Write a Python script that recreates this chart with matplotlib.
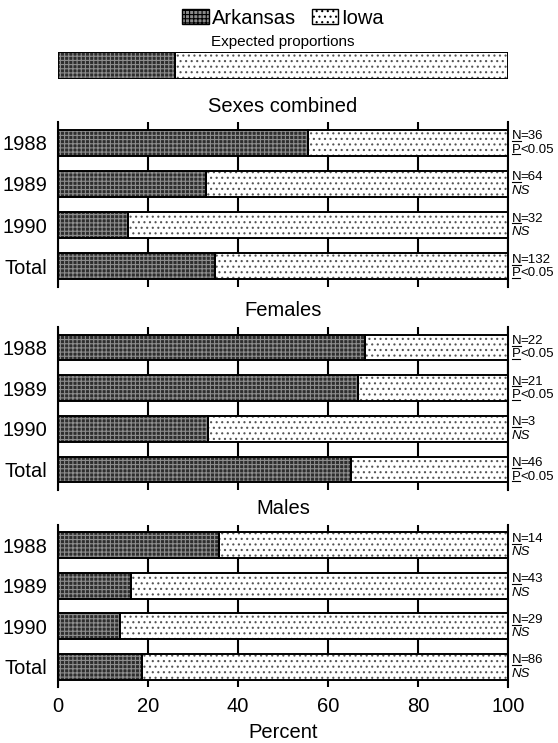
import numpy as np
import matplotlib
matplotlib.use("Agg")
from matplotlib import pyplot as plt
from matplotlib.patches import Patch
from matplotlib.lines import Line2D
import matplotlib.transforms as mtransforms

plt.rcParams['font.family'] = ['Liberation Sans', 'DejaVu Sans']
plt.rcParams['hatch.linewidth'] = 0.8

# percent of birds recovered in Arkansas (rest is Iowa)
years = ["1988", "1989", "1990", "Total"]
expected_arkansas = 26.0

combined_arkansas = [55.6, 32.8, 15.6, 34.8]
combined_n = [36, 64, 32, 132]
combined_sig = ["P<0.05", "NS", "NS", "P<0.05"]

females_arkansas = [68.2, 66.7, 33.3, 65.2]
females_n = [22, 21, 3, 46]
females_sig = ["P<0.05", "P<0.05", "NS", "P<0.05"]

males_arkansas = [35.7, 16.3, 13.8, 18.6]
males_n = [14, 43, 29, 86]
males_sig = ["NS", "NS", "NS", "NS"]

ark_face = "#2e2e2e"
ark_hatch_col = "#8e8e8e"
ark_hatch = "++++"
iowa_dot_col = "#555555"
iowa_hatch = "..."

W, H = 558, 743
fig = plt.figure(figsize=(W / 100, H / 100), dpi=100)

x_left = 58 / W
x_width = 450 / W
x_center = (58 + 508) / 2 / W
note_size = 9.5

underlined = []  # letters that get a line under them


def fy(py):
    return 1 - py / H


def stacked(ax, y, ark, height):
    iowa = [100 - a for a in ark]
    ax.barh(y, ark, height=height, color=ark_face, hatch=ark_hatch,
            edgecolor=ark_hatch_col, linewidth=0, zorder=2)
    ax.barh(y, iowa, left=ark, height=height, color="white", hatch=iowa_hatch,
            edgecolor=iowa_dot_col, linewidth=0, zorder=2)
    ax.barh(y, ark, height=height, fill=False, edgecolor="black", linewidth=1.4, zorder=3)
    ax.barh(y, iowa, left=ark, height=height, fill=False, edgecolor="black", linewidth=1.4, zorder=3)


def label_pair(ax, trans, yy, letter, rest):
    t = ax.text(1.008, yy, letter, transform=trans, fontsize=note_size, va="center", ha="left")
    underlined.append(t)
    tr2 = mtransforms.offset_copy(trans, fig=fig, x=note_size * 0.70, y=0, units="points")
    ax.text(1.008, yy, rest, transform=tr2, fontsize=note_size, va="center", ha="left")


def draw_panel(top_px, bottom_px, ark, ns, sig, title, bottom_labels=False):
    ax = fig.add_axes([x_left, fy(bottom_px), x_width, (bottom_px - top_px) / H])
    y = np.arange(len(years))
    stacked(ax, y, ark, 0.63)
    ax.set_xlim(0, 100)
    ax.set_ylim(3.5, -0.5)
    ax.set_yticks(y)
    ax.set_yticklabels(years, fontsize=14.5)
    ax.set_xticks([0, 20, 40, 60, 80, 100])
    ax.xaxis.grid(True, color="black", linewidth=1.5, zorder=0)
    ax.set_axisbelow(True)
    ax.tick_params(axis="both", length=0)
    ax.tick_params(axis="y", pad=8)
    ax.tick_params(axis="x", pad=7, labelsize=14.5, labelbottom=bottom_labels)
    for s in ["top", "bottom"]:
        ax.spines[s].set_visible(False)
    for s in ["left", "right"]:
        ax.spines[s].set_linewidth(1.5)
    trans = mtransforms.blended_transform_factory(ax.transAxes, ax.transData)
    for i in range(len(years)):
        label_pair(ax, trans, i - 0.16, "N", "=" + str(ns[i]))
        if sig[i] == "NS":
            ax.text(1.008, i + 0.17, "NS", transform=trans, fontsize=note_size,
                    va="center", ha="left", style="italic")
        else:
            label_pair(ax, trans, i + 0.17, "P", sig[i][1:])
    fig.text(x_center, fy(top_px - 16), title, fontsize=14.5, ha="center", va="center")
    return ax


# expected proportions bar
ax0 = fig.add_axes([x_left, fy(79), x_width, 27 / H])
stacked(ax0, [0], [expected_arkansas], 1.0)
ax0.set_xlim(0, 100)
ax0.set_ylim(-0.5, 0.5)
ax0.axis("off")
fig.text(x_center, fy(42), "Expected proportions", fontsize=11, ha="center", va="center")

draw_panel(122, 287, combined_arkansas, combined_n, combined_sig, "Sexes combined")
draw_panel(327, 490, females_arkansas, females_n, females_sig, "Females")
ax3 = draw_panel(525, 687, males_arkansas, males_n, males_sig, "Males", bottom_labels=True)
ax3.set_xlabel("Percent", fontsize=14.5, labelpad=5)

handles = [Patch(facecolor="#8a8a8a", edgecolor="black", hatch="++++", linewidth=1),
           Patch(facecolor="white", edgecolor="black", hatch="...", linewidth=1)]
fig.legend(handles, ["Arkansas", "Iowa"], loc="center", bbox_to_anchor=(x_center, fy(18)),
           ncol=2, frameon=False, fontsize=14.5, handlelength=1.3, handleheight=0.75,
           handletextpad=0.15, columnspacing=0.8, borderpad=0)

# underline N and P now that text sizes are known
fig.canvas.draw()
renderer = fig.canvas.get_renderer()
for t in underlined:
    bb = t.get_window_extent(renderer)
    yl = bb.y0 + 1.2
    fig.add_artist(Line2D([bb.x0, bb.x1], [yl, yl], color="black", linewidth=0.8,
                          transform=mtransforms.IdentityTransform()))

fig.savefig("out.png", dpi=100)
